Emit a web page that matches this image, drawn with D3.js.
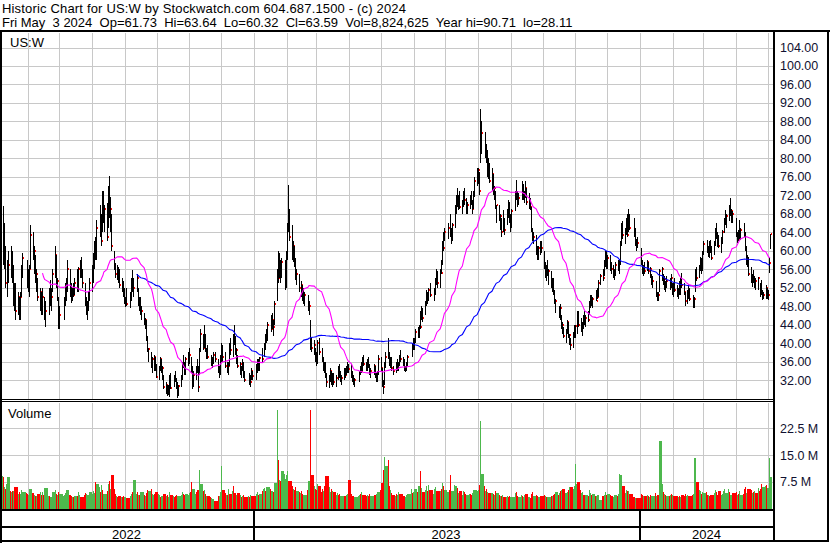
<!DOCTYPE html>
<html><head><meta charset="utf-8">
<script src="https://cdn.jsdelivr.net/npm/d3@7"></script>
<style>
body{margin:0;background:#fff}
text{font-family:Arial,"Liberation Sans",sans-serif}
</style>
</head><body>
<svg id="c" width="830" height="543"></svg>
<script>
const title1 = "Historic Chart for US:W by Stockwatch.com 604.687.1500 - (c) 2024";
const title2 = "Fri May  3 2024  Op=61.73  Hi=63.64  Lo=60.32  Cl=63.59  Vol=8,824,625  Year hi=90.71  lo=28.11";
const symbol = "US:W";
const volumeTitle = "Volume";
const priceTicks = [32,36,40,44,48,52,56,60,64,68,72,76,80,84,88,92,96,100,104];
const volumeTicks = [7.5,15,22.5];
const yearLabels = ["2022","2023","2024"];
const holidays = ["2022-05-30","2022-06-20","2022-07-04","2022-09-05","2022-11-24","2022-12-26",
  "2023-01-02","2023-01-16","2023-02-20","2023-04-07","2023-05-29","2023-06-19","2023-07-04","2023-09-04","2023-11-23","2023-12-25",
  "2024-01-01","2024-01-15","2024-02-19","2024-03-29"];
const firstDay = "2022-05-04", lastDay = "2024-05-03";

const hi = [
72,71,70,69.6,66,61,58,60,61,60,57,53,53,51,50,51,57,59.5,58,
56,57,65.5,64,61,59,56,54,52,51,52,50,49,52,53.6,52,56,61,59,54,50,
48,50,53,54,58,56,53,52,53,54,56,56.5,58,58.7,56,53,50,49,51,54,
57,59.5,62,63,66.6,70,68,73,73,70,70.3,74,76.2,71.6,68,60,57.3,57,56.5,56,54,53.5,52,
50,52,51,54,55.8,54,55,52,50,50,48,46.5,45.5,45,41.5,39,38,37,37.5,37,35.5,
35,37,36.5,35,33,31.5,31,31,33,33.5,33,34,32.5,31.5,31,33,36,37.5,36,37,38,
39,37,35,34,35,36.5,35,39,43,42,44,42,39,39.5,37.5,37,38,38,36.5,35,37.5,
40,39.5,38,36,36,40,41,42,44,41.5,39,37.5,36,35,36.5,36,34,33.5,33,34.5,34,
35.5,36.5,36.5,37,39,40,42,43,44.5,46,46.5,45,49,56,60,59.5,58,58.5,58,60,
66,74.2,69,65.5,62,61,58.5,56,55,53.5,52.5,52,51,50.5,49,45,41,40.6,39,
38,40.6,41,39,37,36,36,33.5,33,34.5,34,33.5,33.5,33,35,35.5,34,33,34.5,34.5,35,36,35.5,
35.5,34,33,32.5,34,35,36,37,37.5,36,36.5,37,35.5,34.5,35.5,35,33.5,34,37.5,
37,34.5,32,36,38,41,38,37,37,35,36,36.5,36,37.5,38.5,37,36.5,35,36,37.5,40,41,
41,43,43.5,44,47,48,47.5,49,51.5,51,52,53,52,54,56,55.5,56,58,62,64,65,
66,68,65,66,70,72,73.6,72,73,71,73,73.6,71.5,70.5,72,73,71,73,76,78,
78,77,90.71,88,85.7,83,81.8,80,79,78,76.5,74,73,70,70,68,67,68.8,67,69,71,70.5,68,
69,73,75.3,73,72.5,75,74.5,73,75,73.5,72.5,71.5,69.5,65,64,63.5,61,61,62,62,
60,57.5,57,58,56,55.5,54,54,51.5,49.5,48,48.5,46,44.5,43.5,43,45,44.5,42,41,42.5,44,
44,47,47,45.5,44.5,46,47,46,47,49,50.5,50.5,50,51.5,52,53.6,55,56,58,60,60,
59,59,57.5,57,56,57.5,58,58,62,66,66.5,65,67,68,69,68,67,65,62.5,63,
60.5,58,57,57.5,58,57.5,56.5,55,54.5,53.5,51,51,56,56.5,55,54.5,53.5,54.5,54,55,53,
53,54,52.5,52,53.5,54,55.2,53,51,51.5,52.5,52,50.5,50,56,56.5,57,58.7,58.5,60,
62,62.3,61,62,62.3,61,62,65,66,64,63.5,63,64.5,67,68.8,68,70,71.4,69,68.5,
67,64,64.5,66.6,65,66,64,61,59,58.7,56.5,55,55.8,54.5,54,54.3,53,53.6,51.5,51,52.5,52,
51.5,58.7,63.64];

const lo = [
66,62,63,57,56,52,50,53,54,53,48,47,45,46,45,45,50,54,52,
51,50,56,58,55,53,51,49,47,46,46,45,43.5,46,48,47,51,54,52,49,43,
43,45,48,49,51,50,48.6,49,50,50.5,51,51,54,54,52,48,46,45,47,49,
51,53,56,58,58,63,61,64,66,64,62,65,67,64,60,55.8,54,53.6,53,52,51,50,48.5,
47.8,48,47.5,49,51,50,51,48,47,46,45,44,43,40.5,38,36,34.5,33.5,34,34,32.5,
32,34,33.5,32,30,29,28.5,28.8,28.4,30,30.5,31.5,30,28.11,28.5,30.5,32,34.5,33,33,35,
35.5,33.5,30,30.5,32,33.5,29.5,33,38,38.5,39,38,36.5,36.5,35,34.5,35.5,36,33.5,32.5,33,
36,36,34.5,33.5,33,35,37.5,37,39.5,37.5,35.5,34.5,33,32.5,34,32.5,31.5,31,30.5,32,32,
32,33.5,34,34,36,37,38.5,40,40.5,42.5,43,41.5,44,49,53,54,53,54,51.5,52,
58,64,62,58,57.5,56.5,53.6,52.5,51,50,49,48.5,48,47,46,38.5,38,37.5,36,
35,35.5,37.5,36,34,33.5,32.5,30.5,30.2,31.5,31,30.5,31,30.5,32,32.5,31.5,31,32,32.5,33,33.5,33.5,
32.5,31.5,31,30.5,31.5,33,33.5,34,35,34,34,34.5,33,32.5,33,32.5,31.5,31.5,33,
34,30.5,29,31,34.5,36.5,35,34.5,34,33,33.5,34,34,35,36,35,34,33.7,34,35,37,38.5,
38.5,40,41,41,43,45,44.5,46,48,48.5,49,50,49,50.5,52.5,52,52,55,57,60,62,
62.5,63,61.5,62,65,68,69.5,68.8,69,68,69.5,70,68,68,69,70,68,69,71.6,74,
74.5,72,79,81,80,79,76,75.5,74.6,73,72,71,69,66,66.5,64.5,63,64,63.5,65.5,67,66,64,
65,68.5,71,69.5,70,71,71,70.3,71.5,70,69,68.8,64,62,61.5,59,58,58,59,59.5,
56,54,53.5,54.5,52.5,52,51,50.5,48.5,46.5,45.5,45,43,42,41,40,42,41,39.5,38.5,39,41,
41,42,43.5,42.5,41.5,43,44,43.5,44.5,46,47.5,48,47.5,49,49.5,50,52.5,53.5,54.5,56.5,56,
56,55.7,55,54,53.6,54.5,55.5,55,57,61,62.5,61.5,63.5,63,64,64.5,63,61,60,60.5,
57,55,54.5,55,55.5,55,54,52.5,52,50,49,49,51,53.5,52.5,51.5,51,52,51.5,52,50.5,
50,51,50,49.5,50.5,50.5,52,50.5,48,48.5,49.5,49,47.6,47.5,51,53.5,54,55.5,55,55.5,
59,59.5,58.7,58.5,59.5,58,59,61,62.5,60.8,60.5,59.5,61.5,63.8,65.5,65,66.5,67.5,66,66,
63,61.6,62,62.5,62.3,63,60,57,56.5,54.5,53,52.2,53,52,51.5,51.5,50,50.5,49.3,49.5,49.5,49.5,
49.3,55.2,60.32];

const cl = [
70,64,67,58,60,53,55,57,56,56.5,49,51,47,50,46,50,56,58.5,53,
52,56,63.4,59,60,54,55,50,51,47,50,46,47,51,49,50,55,59,53,53.5,45,
46,49,50,52,56,51,50,51,50.5,53,52,56,57,55,53,49,46.5,48,50,53,
55,58,60,59,65,66,62,71.6,67,69,63,72,68,69,61,57,55,56,54,52.5,53,51,49,
49.5,48.5,50,53,51.5,52,54,48.5,49,46.5,47,44.5,45,41,38.5,38.8,35,36.5,37,34.5,32.6,
34.5,36.5,34,34.5,30.5,31,29.2,30.5,32.5,30.3,32.5,32,30.5,29,30.8,32.5,35.5,35,33.5,36.5,37,
37.5,34,31,33,34.5,34,30.5,38.5,42,39,41.5,38.5,38.8,37,35.5,36.5,37.5,36.5,34,34.5,37,
38.5,37,35,35.5,35,39.5,38.5,41.5,40,38,38.5,35,35.5,34.5,35.5,33,32,32.5,31.5,34,32.9,
34,36,34.5,36.8,36.5,39.5,41.5,41,44,43,45,43.5,48.5,55.5,54,56,55,57.5,57.8,59,
65,67,63,59,61,57,54.5,55,52,52.5,51.5,49,50.5,47.5,48,40,39,39.5,36.5,
36,40,38,36.5,34.5,35.5,33,31.5,32.5,34,31.5,33,31.5,32.5,34.5,33,32,32.5,34,33,34.5,35,34.3,
33,32.5,31.5,32,33.5,34.5,34,36.5,35.5,35,36,35,33.5,34,35,33,32,33.5,36.5,
34.5,31,30.5,35.5,37,36.8,35.5,36,34.5,34,35.5,34.5,35.8,37,36.5,36,34.5,34.8,35.5,37,39.5,39,
40.5,42.5,41.5,43.8,43.5,46,45.5,48.5,50.5,49.5,51.5,50.5,51,53.5,55,53,55.5,55.2,61,60.5,64,
65,64,62.5,65.5,69,71.5,70,71,69.5,70.5,72.5,71,68.5,70,71.5,70.5,69,72,75,77,
77.5,73,84,85.5,81,81.5,77,78.5,75,76.5,73,73.5,69.5,69.8,67,67.5,64,66.5,64.5,68.5,70,67,65.5,
68.5,72.5,72,70.5,71.5,74,71.5,72.5,73.5,70.5,71,69.5,64.5,62.5,63,60,58.5,60.5,61,60.5,
57,54.5,56,55,55.5,52.5,53.5,51,49,49.2,47,47.5,43.5,44,41.5,42.5,44.5,41.5,41.8,39.5,42,43,
43.8,45,44,43,44,45.5,44.5,45.5,45,48.5,50,48.5,49.5,49.2,50,53,54.5,54,57.5,59,57,
58.5,56.5,56,54.5,55.5,57,56.5,57.5,61.5,65,63.5,64.5,66,63.5,67,65,64,61.5,62,61.7,
57.5,55.5,56.5,55.5,57.5,55.5,56,53,53.5,50.5,50.8,50.5,55.5,56,53,53.8,53,53.5,53,54,51,
52.5,51.5,50.5,51.5,51,53.5,52.5,51,49,50.5,51.5,49.5,48,49.5,55.5,54,56.5,58,56,59.5,
61.5,60,59.5,61.5,60,58.5,61.5,64.5,63,62,61,62.5,64,66.5,67,67.5,69.5,68,68.5,67.9,
63.5,63.8,62.5,63,64.5,63.5,60.5,57.5,58.5,55,53.5,54.5,53.5,53.8,53.5,54,52.5,51,50,50.5,52,49.8,
50.5,57.3,63.59];

// volume in millions of shares
const vol = [
6.5,13,9,8.9,6,5.5,7,8.9,5,4.5,5,4.8,6,4.2,4.5,4,5.2,4.6,4.4,
4.2,3.8,5.5,4.4,3.9,3.6,3.5,4.1,4.5,3.8,4.6,3.9,5.8,3.6,3.4,3.3,4.5,5.1,4.2,3.8,4.6,
4.1,3.5,3.8,4.3,5.2,3.9,3.4,3.2,3.1,3.4,3.6,4.5,3.9,3.3,3.2,3.8,4.4,4.0,3.7,4.6,
4.2,4.9,4.4,7.5,6.8,6.0,4.5,6.5,5.2,4.2,4.8,6.9,7.8,5.5,9.3,5.5,4.1,3.6,3.2,3.4,3.2,3.1,3.5,
3.3,3.0,3.6,4.1,4.5,7.9,4.2,4.6,3.9,3.7,4.6,3.8,3.5,4.3,5.2,4.9,5.6,4.2,3.9,4.1,4.5,
4.0,3.7,3.3,3.5,4.2,3.6,3.8,3.2,4.5,3.7,3.4,3.3,3.6,3.8,3.5,3.9,4.6,4.2,3.8,4.1,3.7,
4.3,4.5,7.4,5.5,4.2,4.6,5.3,10.8,6.8,4.9,5.2,4.1,3.6,3.4,3.2,2.9,2.8,2.1,3.6,3.4,4.5,
11.9,5.2,4.3,3.8,3.9,5.6,4.1,4.8,6.2,4.4,3.9,4.4,3.8,3.3,3.4,3.8,3.1,3.4,3.3,3.9,3.4,
4.2,4.6,3.8,4.1,4.9,5.5,5.8,5.0,6.1,5.6,4.8,4.6,7.2,27.7,13.6,8.1,7.6,10.5,9.8,8.4,
9.5,10.6,7.8,6.2,5.5,5.2,6.1,4.8,4.5,4.3,4.9,4.1,3.9,5.3,7.8,27.7,9.3,6.2,5.4,
5.1,6.8,6.4,4.6,5.5,4.8,6.3,9.0,5.9,4.7,5.6,4.8,4.5,3.9,4.4,3.8,4.2,3.6,3.5,3.6,3.9,4.1,7.9,
4.1,3.6,3.4,3.2,3.5,3.9,4.2,4.6,3.7,3.5,3.7,3.6,4.0,3.4,3.5,3.8,3.9,4.2,4.7,
5.3,7.2,10.8,14.4,11.8,13.6,6.2,5.1,4.3,3.9,3.6,4.0,3.7,4.6,4.2,3.5,3.4,3.2,3.7,4.1,5.6,4.3,
4.5,5.5,4.6,6.4,10.6,5.8,4.7,5.3,6.2,4.9,6.6,5.1,4.2,5.4,5.9,4.8,4.9,5.5,7.1,6.3,5.2,
4.5,5.1,9.3,5.0,6.6,6.2,5.7,4.4,4.9,3.9,4.8,4.6,4.1,3.8,4.2,4.0,3.9,4.3,5.2,4.8,
5.3,6.7,24.6,9.8,6.2,5.0,5.6,4.7,4.4,4.3,4.1,3.9,5.0,4.4,3.8,3.6,3.5,3.7,3.1,3.3,3.6,3.2,3.5,
3.1,4.3,4.5,3.6,3.2,3.9,3.5,3.3,3.7,4.1,3.2,3.0,4.2,4.6,3.5,3.7,3.4,3.2,3.3,3.4,
3.6,3.9,3.4,3.2,3.1,3.5,3.4,3.7,4.2,4.6,3.9,4.4,4.8,5.1,5.6,4.3,4.5,5.2,5.9,6.1,5.4,6.3,
12.4,7.0,7.3,5.1,4.4,4.6,3.9,3.7,3.6,5.2,4.4,3.8,4.0,3.6,3.5,3.7,2.4,3.4,3.9,4.6,3.8,
4.0,3.7,3.5,3.4,3.3,3.9,3.6,4.1,9.6,9.4,6.2,4.4,5.1,4.8,4.9,4.0,3.1,3.2,2.9,3.0,
4.2,3.9,3.6,3.4,3.8,3.5,3.3,3.7,3.4,4.4,3.6,3.9,18.8,6.8,4.5,4.2,3.9,3.6,3.5,3.8,4.1,
3.9,3.6,3.5,3.2,3.4,3.3,3.7,3.5,4.1,3.6,3.8,3.4,3.9,4.2,14.2,7.5,5.3,4.9,4.1,4.6,
4.3,4.5,3.7,3.9,3.6,3.8,4.4,5.2,4.6,3.9,4.8,3.7,4.1,4.9,5.4,4.3,5.5,4.6,3.8,4.4,
4.6,3.9,4.2,4.9,3.8,4.0,5.4,6.1,4.4,5.5,5.2,4.3,4.6,4.9,4.4,5.8,4.9,5.5,6.8,5.9,6.3,6.6,
5.7,14.2,8.824625];

const maShortLen = 30, maLongLen = 90;

// ---------- build ----------
const hol = new Set(holidays);
const dates = d3.utcDay.range(new Date(firstDay), d3.utcDay.offset(new Date(lastDay), 1))
  .filter(d => d.getUTCDay() > 0 && d.getUTCDay() < 6 && !hol.has(d3.utcFormat("%Y-%m-%d")(d)));
const N = Math.min(dates.length, cl.length, hi.length, lo.length, vol.length);
const rows = d3.range(N).map(i => ({d: dates[i], h: hi[i], l: lo[i], c: cl[i], v: vol[i]}));

const svg = d3.select("#c");
svg.append("rect").attr("width", 830).attr("height", 543).attr("fill", "#fff");

const L = 2, R = 774, pTop = 33, pBot = 400, vTop = 403, vBot = 509;
const x = d3.scaleUtc().domain([new Date("2023-01-01"), new Date("2024-01-01")]).range([254, 640]);
const yP = d3.scaleLinear().domain([32, 104]).range([380, 47.5]);
const yV = d3.scaleLinear().domain([0, 22.5]).range([508.5, 428.3]);
const px = v => Math.round(v) + 0.5;

// titles
svg.append("text").attr("x", 2).attr("y", 12.5).attr("font-size", 13).attr("fill", "#000")
  .attr("textLength", 404).attr("lengthAdjust", "spacing").text(title1);
svg.append("text").attr("x", 2).attr("y", 26.5).attr("font-size", 13).attr("fill", "#000")
  .style("white-space", "pre").text(title2);

// gridlines
const months = d3.utcMonth.range(new Date("2022-06-01"), new Date("2024-06-01"));
const grid = svg.append("g").attr("stroke", "#c8c8c8").attr("stroke-width", 1);
months.forEach(m => {
  const gx = px(x(m));
  if (gx > L && gx < R) {
    grid.append("line").attr("x1", gx).attr("x2", gx).attr("y1", pTop).attr("y2", pBot);
    grid.append("line").attr("x1", gx).attr("x2", gx).attr("y1", vTop).attr("y2", vBot);
  }
});
priceTicks.forEach(t => grid.append("line").attr("x1", L).attr("x2", R).attr("y1", px(yP(t))).attr("y2", px(yP(t))));
volumeTicks.forEach(t => grid.append("line").attr("x1", L).attr("x2", R).attr("y1", px(yV(t))).attr("y2", px(yV(t))));

// clip paths
const defs = svg.append("defs");
defs.append("clipPath").attr("id", "cp").append("rect").attr("x", L).attr("y", pTop).attr("width", R - L).attr("height", pBot - pTop);
defs.append("clipPath").attr("id", "cv").append("rect").attr("x", L).attr("y", vTop).attr("width", R - L).attr("height", vBot - vTop);

// price bars: black high-low line, red close tick on its right
const pg = svg.append("g").attr("clip-path", "url(#cp)");
rows.forEach((r, i) => {
  const bx = Math.round(x(r.d));
  const yh = Math.round(yP(r.h)), yl = Math.round(yP(r.l));
  pg.append("rect").attr("x", bx).attr("y", yh).attr("width", 1).attr("height", Math.max(1, yl - yh)).attr("fill", "#000");
  pg.append("rect").attr("x", bx + 1).attr("y", Math.round(yP(r.c)) - 1).attr("width", 1).attr("height", 2).attr("fill", "#ff0000");
});

// moving averages
function sma(n) {
  return rows.map((r, i) => i < n - 1 ? null : d3.mean(rows.slice(i - n + 1, i + 1), q => q.c));
}
const line = d3.line().defined(p => p.m != null).x(p => x(p.d)).y(p => yP(p.m));
const maS = sma(maShortLen).map((m, i) => ({d: rows[i].d, m}));
const maL = sma(maLongLen).map((m, i) => ({d: rows[i].d, m}));
pg.append("path").datum(maL).attr("d", line).attr("fill", "none").attr("stroke", "#0000ff").attr("stroke-width", 1.1);
pg.append("path").datum(maS).attr("d", line).attr("fill", "none").attr("stroke", "#ff00ff").attr("stroke-width", 1.1);

// volume bars, coloured by close vs previous close
const vg = svg.append("g").attr("clip-path", "url(#cv)");
rows.forEach((r, i) => {
  const x0 = Math.floor(x(r.d));
  const x1 = i < N - 1 ? Math.floor(x(rows[i + 1].d)) : x0 + 2;
  const col = i === 0 ? "#4db84d" : (r.c > rows[i - 1].c ? "#4db84d" : (r.c < rows[i - 1].c ? "#ff0000" : "#a8a8a8"));
  const yt = Math.round(yV(r.v));
  vg.append("rect").attr("x", x0).attr("y", yt).attr("width", Math.max(1, x1 - x0)).attr("height", vBot - yt).attr("fill", col);
});

// labels inside panels
svg.append("text").attr("x", 10).attr("y", 46.5).attr("font-size", 13).attr("fill", "#000").text(symbol);
svg.append("text").attr("x", 8).attr("y", 417.5).attr("font-size", 13).attr("fill", "#000").text(volumeTitle);

// right axes
const pa = svg.append("g").attr("transform", `translate(${R},0)`)
  .call(d3.axisRight(yP).tickValues(priceTicks).tickFormat(d3.format(".2f")).tickSize(0).tickPadding(6));
const va = svg.append("g").attr("transform", `translate(${R},0)`)
  .call(d3.axisRight(yV).tickValues(volumeTicks).tickFormat(d => d.toFixed(1) + " M").tickSize(0).tickPadding(6));
[pa, va].forEach(a => {
  a.select(".domain").remove();
  a.selectAll("text").attr("font-size", 12.5).attr("fill", "#101030").attr("font-family", "Arial, 'Liberation Sans', sans-serif");
});

// frame lines
const fr = svg.append("g").attr("fill", "#000");
fr.append("rect").attr("x", 0).attr("y", 30).attr("width", 830).attr("height", 2);
fr.append("rect").attr("x", 0).attr("y", 30).attr("width", 2).attr("height", 513);
fr.append("rect").attr("x", 773).attr("y", 30).attr("width", 2).attr("height", 512);
fr.append("rect").attr("x", 827).attr("y", 30).attr("width", 2).attr("height", 512);
fr.append("rect").attr("x", 0).attr("y", 399).attr("width", 775).attr("height", 1);
fr.append("rect").attr("x", 0).attr("y", 401).attr("width", 775).attr("height", 1);
fr.append("rect").attr("x", 0).attr("y", 509).attr("width", 775).attr("height", 2);
fr.append("rect").attr("x", 0).attr("y", 526).attr("width", 775).attr("height", 2);
fr.append("rect").attr("x", 0).attr("y", 540).attr("width", 829).attr("height", 2);

// year separators and labels
const yearStarts = [new Date("2023-01-01"), new Date("2024-01-01")];
const seps = [0, ...yearStarts.map(d => Math.round(x(d)) - 1), R];
yearStarts.forEach(d => fr.append("rect").attr("x", Math.round(x(d)) - 1).attr("y", 509).attr("width", 2).attr("height", 32));
yearLabels.forEach((t, i) => {
  svg.append("text").attr("x", (seps[i] + seps[i + 1]) / 2).attr("y", 539).attr("text-anchor", "middle")
    .attr("font-size", 13).attr("fill", "#000").text(t);
});
</script>
</body></html>
